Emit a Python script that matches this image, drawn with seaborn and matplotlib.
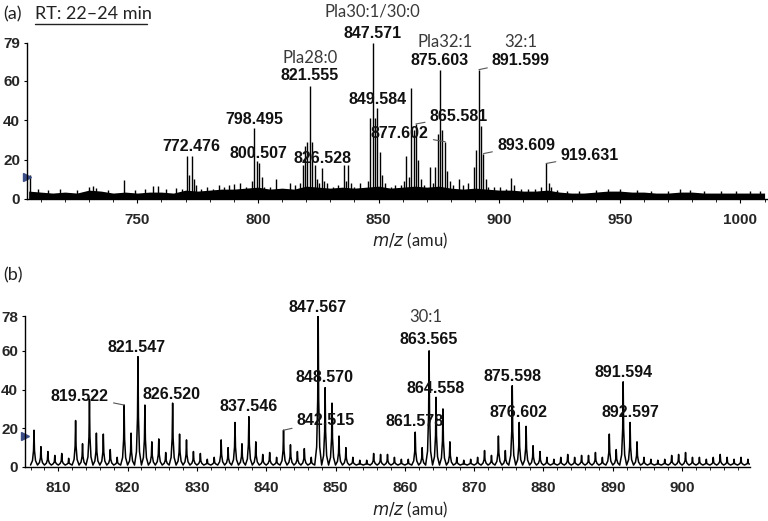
import matplotlib
matplotlib.use("Agg")
import matplotlib.pyplot as plt
from matplotlib.ticker import MultipleLocator
import numpy as np
import pandas as pd
import seaborn as sns

# ---------------- panel (a): centroid spectrum, RT 22-24 min ----------------
a_mz = [705.5, 709, 713, 718, 725, 730, 731.5, 733, 738, 744.5, 749, 753, 756.5, 758.5, 762, 766, 768.5,
        770.5, 771.5, 772.5, 773.5, 774.5, 776.5, 779, 781.5, 784, 786, 788, 790, 792.5, 795, 797.5,
        798.5, 799.5, 800.5, 801.5, 802.5, 805, 807.5, 810, 813.5, 815.5, 817.5,
        818.5, 819.5, 820.5, 821.5, 822.5, 823.5, 824.5, 825.5, 826.5, 827.5, 828.5, 831, 833,
        835.5, 836.5, 837.5, 838.5, 840, 842.5, 845.5, 846.5, 847.5, 848.5, 849.5, 850.5, 851.5,
        852.5, 855, 857, 859.5, 860.5, 861.5, 862.5, 863.5, 864.5, 865.5, 866.5, 867.5, 869,
        871.5, 872.5, 873.5, 874.5, 875.5, 876.5, 877.5, 878.5, 879.5, 881, 883.5, 885, 887,
        889.5, 890.5, 891.5, 892.5, 893.5, 894.5, 895.5, 898, 900.5, 903, 905, 906, 909, 912,
        915, 917.5, 919.5, 920.5, 921.5, 924, 928, 933, 940, 945, 950, 957, 963, 970, 975, 979,
        985, 992, 998, 1004, 1008]
a_int = [12, 5, 4.5, 5, 4.5, 6, 6.5, 5.5, 4.5, 9.5, 4.5, 5, 6.5, 6.5, 5, 5.5, 5,
         22, 12, 22, 10, 7, 5, 6, 5, 7, 6, 7, 7.5, 8, 6, 9,
         36, 19, 18, 11, 6, 6, 10, 5, 8, 7, 8,
         17, 27, 29, 57, 29, 17, 10, 8, 15.6, 9, 8, 6, 7,
         17, 9, 17, 8, 6, 8, 9, 41, 79, 41, 46, 24, 12,
         8, 6, 7, 7, 9, 22, 11, 56, 35, 38, 20, 10, 7,
         16, 8, 16, 33, 65.5, 35, 29, 14, 9, 7, 10, 7, 8,
         16, 25, 65.5, 37, 23, 10, 6, 6, 6, 5, 10.5, 7, 5, 5,
         5, 6, 18, 8, 6, 4.5, 4, 4, 4.5, 5, 5, 4.5, 4, 4, 5, 4.5,
         4, 4, 4, 4, 4]

# baseline noise band (upper edge of the dense noise forest)
noise_mz = list(range(705, 1011, 5))
noise_hi = [4, 3.5, 3, 3.5, 3, 4.5, 4, 3, 3.5, 3, 3.5, 3.5, 3, 4.5, 4, 4.5, 5, 5, 5.5, 6,
            5, 5.5, 5, 6.5, 6, 5.5, 6, 5.5, 6, 6.5, 5.5, 6, 6.5, 6, 6.5, 5.5, 5, 5.5, 5, 4.5,
            4.5, 4, 4, 4.5, 3.5, 3, 3, 3.5, 4, 4, 3.5, 3.5, 3, 3, 3.5, 3.5, 3, 3, 3, 3, 3, 3]

# bold peak labels (text, x, y) and lipid names
a_labels = [("772.476", 772.4, 26.5), ("798.495", 798.6, 40.5), ("800.507", 800.2, 22.8),
            ("826.528", 826.6, 20.3), ("821.555", 821.3, 62.3), ("847.571", 847.55, 84),
            ("849.584", 849.4, 50.6), ("875.603", 875.3, 70)]
a_names = [("Pla28:0", 821.85, 71.2), ("Pla30:1/30:0", 847.3, 95.2),
           ("Pla32:1", 877.4, 79.7), ("32:1", 908.8, 79.7)]
# labels with leader lines: (text, text x, text y, peak x, peak y, side)
a_leaders = [("865.581", 871.2, 42, 865.5, 38, "left"),
             ("877.602", 870.8, 33, 877.6, 29, "right"),
             ("891.599", 897.0, 70, 891.6, 65.5, "left"),
             ("893.609", 899.1, 27.3, 893.5, 23, "left"),
             ("919.631", 925.4, 22, 919.5, 18, "left")]

# ---------------- panel (b): profile spectrum ----------------
b_mz = [806.5, 807.5, 808.5, 809.5, 810.5, 811.5, 812.5, 813.5, 814.5, 815.5,
        816.5, 817.5, 818.5, 819.5, 820.5, 821.5, 822.5, 823.5, 824.5, 825.5,
        826.5, 827.5, 828.5, 829.5, 830.5, 831.5, 832.5, 833.5, 834.5, 835.5,
        836.5, 837.5, 838.5, 839.5, 840.5, 841.5, 842.5, 843.5, 844.5, 845.5,
        846.5, 847.5, 848.5, 849.5, 850.5, 851.5, 852.5, 853.5, 854.5, 855.5,
        856.5, 857.5, 858.5, 859.5, 860.5, 861.5, 862.5, 863.5, 864.5, 865.5,
        866.5, 867.5, 868.5, 869.5, 870.5, 871.5, 872.5, 873.5, 874.5, 875.5,
        876.5, 877.5, 878.5, 879.5, 880.5, 881.5, 882.5, 883.5, 884.5, 885.5,
        886.5, 887.5, 888.5, 889.5, 890.5, 891.5, 892.5, 893.5, 894.5, 895.5,
        896.5, 897.5, 898.5, 899.5, 900.5, 901.5, 902.5, 903.5, 904.5, 905.5,
        906.5, 907.5, 908.5, 909.5]
b_int = [19, 10.5, 8, 6, 7, 4.5, 24, 12, 35, 17.5,
         17, 9, 5, 32, 17.5, 57, 32, 13, 14.5, 7.5,
         33, 17, 14, 8, 7, 4, 5, 14, 10, 23,
         12, 26, 13, 6.5, 7.5, 5, 19, 11.5, 8, 9.5,
         5, 78, 41, 33, 16, 10, 5, 3.5, 3.5, 7,
         6.5, 6.5, 5, 4, 4, 18, 10, 60, 36, 30,
         13, 5, 3.5, 4, 5, 8.5, 6, 16, 8.5, 42,
         23, 21, 11, 8, 5, 4, 5, 6.5, 5, 6,
         6, 7.5, 5, 17, 9, 44, 23, 13, 5, 4,
         3.5, 4, 6, 6.5, 7.5, 5, 5, 4, 5, 6.5,
         5, 4, 5, 4]

b_labels = [("821.547", 821.35, 61.5), ("826.520", 826.3, 37.6), ("837.546", 837.45, 31),
            ("847.567", 847.36, 82.6), ("848.570", 848.4, 46), ("863.565", 863.5, 66),
            ("864.558", 864.5, 40.5), ("861.578", 861.35, 23.4), ("875.598", 875.5, 47),
            ("876.602", 876.45, 28), ("891.594", 891.6, 48.6), ("892.597", 892.55, 28)]
b_names = [("30:1", 863.0, 77.5)]
b_leaders = [("819.522", 817.3, 36.6, 819.5, 32, "right"),
             ("842.515", 844.4, 23.9, 842.5, 19, "left")]

sns.set_theme(style="ticks")
plt.rcParams["font.family"] = ["Liberation Sans", "DejaVu Sans"]

fig = plt.figure(figsize=(7.68, 5.21), dpi=100)
axA = fig.add_axes([27 / 768, 1 - 199 / 521, 740 / 768, 156 / 521])
axB = fig.add_axes([25 / 768, 1 - 467 / 521, 725 / 768, 151 / 521])

name_col = "#3a3a3a"
lbl_kw = dict(fontsize=11.5, fontweight="bold", color="#111111", ha="center", va="center")
name_kw = dict(fontsize=12, family="Lato", color=name_col, ha="center", va="center")


def style_axis(ax, xlim, ylim, yticks, xmajor, xminor):
    ax.set_xlim(*xlim)
    ax.set_ylim(*ylim)
    ax.set_yticks(yticks)
    ax.xaxis.set_major_locator(MultipleLocator(xmajor))
    ax.xaxis.set_minor_locator(MultipleLocator(xminor))
    sns.despine(ax=ax)
    for s in ("left", "bottom"):
        ax.spines[s].set_color("black")
        ax.spines[s].set_linewidth(1.0)
    ax.tick_params(axis="x", which="major", length=3, width=0.8, pad=7, labelsize=11, color="black")
    ax.tick_params(axis="x", which="minor", length=2, width=0.6, color="black")
    ax.tick_params(axis="y", length=2, width=0.8, pad=3, labelsize=11, color="black")
    for t in ax.get_xticklabels() + ax.get_yticklabels():
        t.set_fontweight("bold")
    ax.set_xlabel("")
    ax.set_ylabel("")
    ax.grid(False)


def leaders(ax, items):
    for txt, tx, ty, px, py, side in items:
        ax.annotate(txt, xy=(px, py), xytext=(tx, ty), ha=side, va="center",
                    fontsize=11.5, fontweight="bold", color="#111111",
                    arrowprops=dict(arrowstyle="-", color="#555555", lw=0.8,
                                    shrinkA=1, shrinkB=0))


# (a) noise band + sticks
axA.fill_between(noise_mz, 0, noise_hi, color="black", lw=0)
axA.vlines(a_mz, 0, a_int, color="black", lw=1.0)
style_axis(axA, (704.3, 1011), (0, 79), [0, 20, 40, 60, 79], 50, 10)
for txt, x, y in a_labels:
    axA.text(x, y, txt, clip_on=False, **lbl_kw)
for txt, x, y in a_names:
    axA.text(x, y, txt, clip_on=False, **name_kw)
leaders(axA, a_leaders)
axA.plot([704.3], [11], marker=">", color="#3b4d86", ms=6, clip_on=False)

# (b) profile trace built from peak centres and heights
px, py = [], []
for m, h in zip(b_mz, b_int):
    px += [m - 0.5, m - 0.22, m - 0.07, m, m + 0.07, m + 0.22]
    py += [1.0, 1 + 0.12 * h, 0.45 * h, h, 0.45 * h, 1 + 0.12 * h]
prof = pd.DataFrame({"mz": px, "intensity": py})
sns.lineplot(data=prof, x="mz", y="intensity", ax=axB, color="black", lw=1.1,
             sort=False, estimator=None)
style_axis(axB, (805.2, 909.8), (0, 78), [0, 20, 40, 60, 78], 10, 2)
for txt, x, y in b_labels:
    axB.text(x, y, txt, clip_on=False, **lbl_kw)
for txt, x, y in b_names:
    axB.text(x, y, txt, clip_on=False, **name_kw)
leaders(axB, b_leaders)
axB.plot([805.2], [16], marker=">", color="#3b4d86", ms=6, clip_on=False)

# panel tags and axis titles
fig.text(13 / 768, 1 - 14 / 521, "(a)", family="Lato", fontsize=13, color="#222222", ha="center", va="center")
fig.text(35 / 768, 1 - 14 / 521, "RT: 22\u201324 min", family="Lato", fontsize=13, color="#222222",
         ha="left", va="center")
fig.add_artist(plt.Line2D([35 / 768, 147 / 768], [1 - 24 / 521, 1 - 24 / 521], color="#222222", lw=1))
fig.text(13 / 768, 1 - 275 / 521, "(b)", family="Lato", fontsize=13, color="#222222", ha="center", va="center")
for yy in (241, 510):
    fig.text(410 / 768, 1 - yy / 521, "$\\it{m/z}$ (amu)", family="Lato", fontsize=12,
             color="#222222", ha="center", va="center")

fig.savefig("out.png", dpi=100)
